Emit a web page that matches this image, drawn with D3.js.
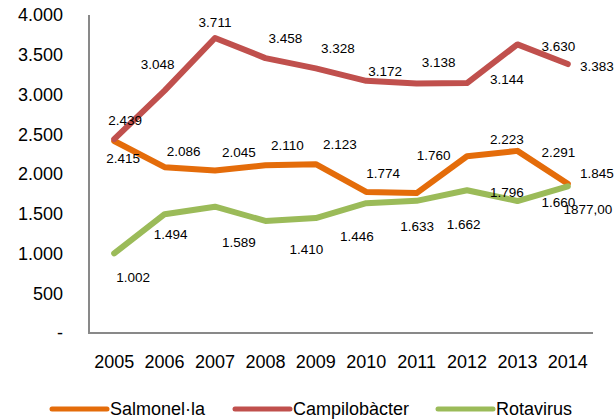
<!DOCTYPE html>
<html>
<head>
<meta charset="utf-8">
<script src="https://cdn.jsdelivr.net/npm/d3@7"></script>
<style>
  body { margin: 0; background: #fff; }
  svg text { font-family: "Liberation Sans", Arial, sans-serif; fill: #000; }
</style>
</head>
<body>
<div id="chart"></div>
<script>
// data
const years = ["2005", "2006", "2007", "2008", "2009", "2010", "2011", "2012", "2013", "2014"];
const salmonella = [2415, 2086, 2045, 2110, 2123, 1774, 1760, 2223, 2291, 1877];
const campilobacter = [2439, 3048, 3711, 3458, 3328, 3172, 3138, 3144, 3630, 3383];
const rotavirus = [1002, 1494, 1589, 1410, 1446, 1633, 1662, 1796, 1660, 1845];
const salmonellaLabels = ["2.415", "2.086", "2.045", "2.110", "2.123", "1.774", "1.760", "2.223", "2.291", "1877,00"];
const campilobacterLabels = ["2.439", "3.048", "3.711", "3.458", "3.328", "3.172", "3.138", "3.144", "3.630", "3.383"];
const rotavirusLabels = ["1.002", "1.494", "1.589", "1.410", "1.446", "1.633", "1.662", "1.796", "1.660", "1.845"];
const yTicks = [0, 500, 1000, 1500, 2000, 2500, 3000, 3500, 4000];
const yTickLabels = ["-", "500", "1.000", "1.500", "2.000", "2.500", "3.000", "3.500", "4.000"];

// where the data labels sit relative to their point (as in the original)
const labelOffsets = {
  salmonella: [[9, 17], [19, -16], [24, -18], [22, -20], [24, -20], [17, -19], [17, -38], [40, -17], [41, 1], [20, 25]],
  campilobacter: [[11, -19], [-7, -26], [0, -16], [20, -20], [22, -20], [19, -10], [22, -21], [40, -4], [41, 2], [29, 2]],
  rotavirus: [[19, 24], [6, 20], [24, 36], [41, 28], [41, 18], [51, 23], [47, 23], [40, 2], [41, 1], [29, -13]]
};

const series = [
  { key: "salmonella", name: "Salmonel·la", values: salmonella, labels: salmonellaLabels, color: "#E46C0A" },
  { key: "campilobacter", name: "Campilobàcter", values: campilobacter, labels: campilobacterLabels, color: "#C0504D" },
  { key: "rotavirus", name: "Rotavirus", values: rotavirus, labels: rotavirusLabels, color: "#9BBB59" }
];

const width = 616, height = 420;
const margin = { left: 89, right: 23, top: 15, bottom: 87 };

const svg = d3.select("#chart").append("svg")
  .attr("width", width)
  .attr("height", height);

const x = d3.scalePoint()
  .domain(years)
  .range([margin.left, width - margin.right])
  .padding(0.5);

const y = d3.scaleLinear()
  .domain([0, 4000])
  .range([height - margin.bottom, margin.top]);

// y labels
svg.append("g")
  .selectAll("text")
  .data(yTicks)
  .join("text")
  .attr("x", 63)
  .attr("y", d => y(d))
  .attr("dy", "0.35em")
  .attr("text-anchor", "end")
  .style("font-size", "18px")
  .text((d, i) => yTickLabels[i]);

// x labels
svg.append("g")
  .selectAll("text")
  .data(years)
  .join("text")
  .attr("x", d => x(d))
  .attr("y", y(0) + 29)
  .attr("dy", "0.35em")
  .attr("text-anchor", "middle")
  .style("font-size", "18px")
  .text(d => d);

// axis lines
svg.append("line")
  .attr("x1", margin.left).attr("x2", margin.left)
  .attr("y1", y(4000)).attr("y2", y(0))
  .attr("stroke", "#898989").attr("stroke-width", 2);
svg.append("line")
  .attr("x1", margin.left - 1).attr("x2", width - margin.right)
  .attr("y1", y(0)).attr("y2", y(0))
  .attr("stroke", "#898989").attr("stroke-width", 2);

const line = d3.line()
  .x((d, i) => x(years[i]))
  .y(d => y(d));

svg.append("g")
  .selectAll("path")
  .data(series)
  .join("path")
  .attr("d", s => line(s.values))
  .attr("fill", "none")
  .attr("stroke", s => s.color)
  .attr("stroke-width", 6)
  .attr("stroke-linejoin", "round")
  .attr("stroke-linecap", "round");

// data labels
series.forEach(s => {
  svg.append("g")
    .selectAll("text")
    .data(s.values)
    .join("text")
    .attr("x", (d, i) => x(years[i]) + labelOffsets[s.key][i][0])
    .attr("y", (d, i) => y(d) + labelOffsets[s.key][i][1])
    .attr("dy", "0.35em")
    .attr("text-anchor", "middle")
    .style("font-size", "13.5px")
    .text((d, i) => s.labels[i]);
});

// legend
const legendX = [52, 235, 438];
const legend = svg.append("g")
  .selectAll("g")
  .data(series)
  .join("g")
  .attr("transform", (d, i) => `translate(${legendX[i]}, 409)`);

legend.append("line")
  .attr("x1", 0).attr("x2", 55)
  .attr("stroke", d => d.color)
  .attr("stroke-width", 5)
  .attr("stroke-linecap", "round");

legend.append("text")
  .attr("x", 58)
  .attr("dy", "0.35em")
  .style("font-size", "18px")
  .text(d => d.name);
</script>
</body>
</html>
